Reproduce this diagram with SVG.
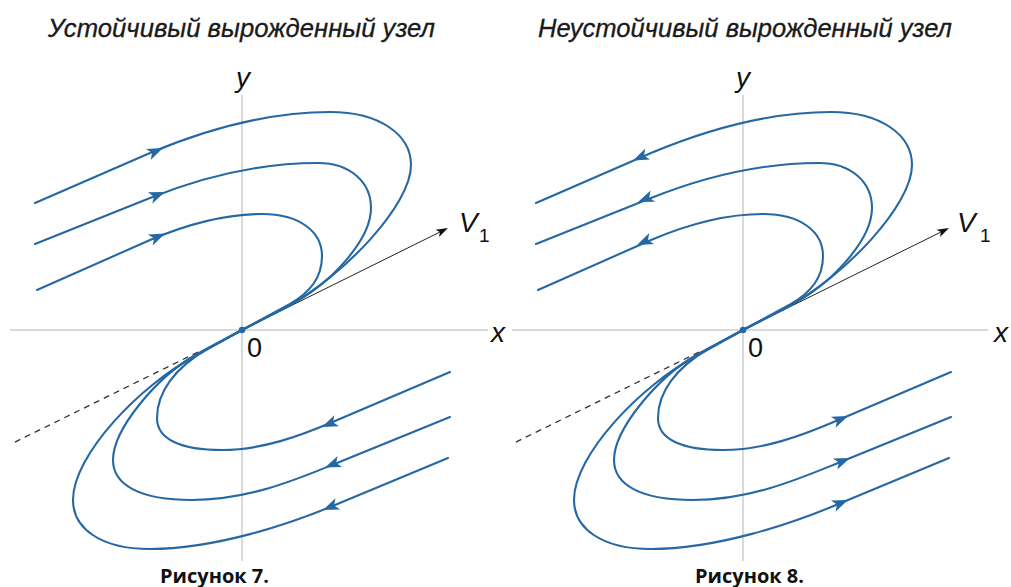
<svg xmlns="http://www.w3.org/2000/svg" xmlns:xlink="http://www.w3.org/1999/xlink" width="1011" height="587" viewBox="0 0 1011 587">
<style>
.axis{stroke:#b4b4b4;stroke-width:1;fill:none}
.traj{stroke:#2568a3;stroke-width:2.1;fill:none;stroke-linecap:round;stroke-linejoin:round}
.dash{stroke:#333;stroke-width:1.3;fill:none;stroke-dasharray:6 5}
.vec{stroke:#222;stroke-width:1;fill:none}
.ah{fill:#2568a3}
.vh{fill:#111}
.title{font-family:"Liberation Sans",Arial,sans-serif;font-style:italic;font-size:25px;fill:#1a1a1a;stroke:#1a1a1a;stroke-width:0.3}
.lbl{font-family:"Liberation Sans",Arial,sans-serif;font-style:italic;font-size:28px;fill:#111}
.num{font-family:"Liberation Sans",Arial,sans-serif;font-size:27px;fill:#111}
.sub{font-family:"Liberation Sans",Arial,sans-serif;font-size:19px;fill:#111}
.cap{font-family:"Open Sans","Liberation Sans",sans-serif;font-weight:bold;font-size:20px;fill:#111}
</style>
<defs>
<path id="arr" d="M0,0 L-16,-6 L-12,0 L-16,6 Z"/>
<path id="varr" d="M0,0 L-12,-4 L-9,0 L-12,4 Z"/>
<g id="plot">
<line class="axis" x1="242" y1="95" x2="242" y2="561"/>
<path class="dash" d="M198,352 L13,443"/>
<line class="vec" x1="242" y1="330" x2="440" y2="232"/>
<use xlink:href="#varr" class="vh" transform="translate(448,228) rotate(-26.3)"/>
<path class="traj" d="M35,203 L150,153 C205,130 265,112 330,112 C380,112 411,135 411,165 C411,205 345,275 285,308 L242,330"/>
<path class="traj" d="M35,244 L150,198 C200,178 260,163 318,163 C350,163 371,182 371,208 C371,240 330,285 288,306 L242,330"/>
<path class="traj" d="M37,290 L150,240 C190,223 228,214 262,214 C300,214 322,232 322,256 C322,278 310,292 290,304 L242,330"/>
<path class="traj" d="M450,372 L335,421 C300,436 262,450 222,450 C182,450 157,440 157,418 C157,392 175,368 207,349 L242,330"/>
<path class="traj" d="M450,417 L337,463 C300,478 250,500 192,500 C140,500 113,485 113,460 C113,430 155,378 197,354 L242,330"/>
<path class="traj" d="M448,458 L335,505 C290,524 215,549 150,549 C100,549 73,528 73,500 C73,455 140,385 197,355 L242,330"/>
<circle cx="242" cy="330" r="3.2" fill="#2568a3"/>
</g>
</defs>

<g id="left-panel">
<line class="axis" x1="10" y1="330" x2="488" y2="330"/>
<use xlink:href="#plot"/>
<g id="left-arrows">
<use xlink:href="#arr" class="ah" transform="translate(163,148) rotate(-23.5)"/>
<use xlink:href="#arr" class="ah" transform="translate(165,192) rotate(-21.8)"/>
<use xlink:href="#arr" class="ah" transform="translate(165,233.5) rotate(-23.9)"/>
<use xlink:href="#arr" class="ah" transform="translate(322,427) rotate(156.7)"/>
<use xlink:href="#arr" class="ah" transform="translate(325,467.5) rotate(157.9)"/>
<use xlink:href="#arr" class="ah" transform="translate(323,510) rotate(157.4)"/>
</g>
<text class="title" x="48" y="37" textLength="387" lengthAdjust="spacingAndGlyphs">Устойчивый вырожденный узел</text>
<text class="lbl" x="236" y="87">y</text>
<text class="lbl" x="491" y="342">x</text>
<text class="num" x="247" y="357">0</text>
<text class="lbl" x="459" y="232">V</text>
<text class="sub" x="479" y="242">1</text>
<text class="cap" x="160" y="583" textLength="109" lengthAdjust="spacingAndGlyphs">Рисунок 7.</text>
</g>

<g id="right-panel">
<line class="axis" x1="512" y1="330" x2="988" y2="330"/>
<use xlink:href="#plot" transform="translate(501,0)"/>
<g id="right-arrows">
<use xlink:href="#arr" class="ah" transform="translate(633,160.5) rotate(156.5)"/>
<use xlink:href="#arr" class="ah" transform="translate(638,202) rotate(158.2)"/>
<use xlink:href="#arr" class="ah" transform="translate(637,245) rotate(156.1)"/>
<use xlink:href="#arr" class="ah" transform="translate(848,416) rotate(-23.3)"/>
<use xlink:href="#arr" class="ah" transform="translate(850,458) rotate(-22.1)"/>
<use xlink:href="#arr" class="ah" transform="translate(848,500) rotate(-22.6)"/>
</g>
<text class="title" x="538" y="37" textLength="414" lengthAdjust="spacingAndGlyphs">Неустойчивый вырожденный узел</text>
<text class="lbl" x="736" y="87">y</text>
<text class="lbl" x="994" y="342">x</text>
<text class="num" x="748" y="357">0</text>
<text class="lbl" x="957" y="232">V</text>
<text class="sub" x="980" y="242">1</text>
<text class="cap" x="695" y="583" textLength="109" lengthAdjust="spacingAndGlyphs">Рисунок 8.</text>
</g>
</svg>
